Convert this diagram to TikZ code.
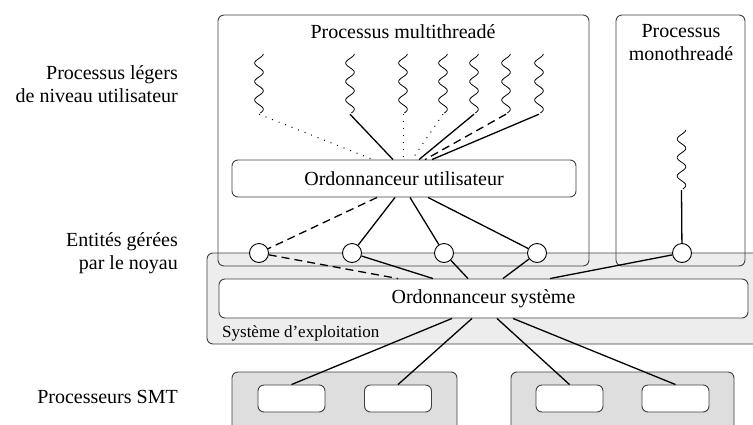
\documentclass[tikz,border=0pt]{standalone}
\usepackage{fontspec}
\setmainfont{Liberation Serif}

\begin{document}
\begin{tikzpicture}[x=1pt,y=-1pt,
  font=\fontsize{20}{23}\selectfont,
  cadre/.style={draw=black!75,line width=0.9pt,rounded corners=6pt,inner sep=0pt},
  entite/.style={circle,draw,fill=white,line width=0.9pt,minimum size=19pt,inner sep=0pt},
  lien/.style={line width=1.3pt},
  pointille/.style={line width=1pt,dash pattern=on 1pt off 6pt},
  tirets/.style={lien,dash pattern=on 8pt off 5pt},
  fil/.style={minimum width=12pt,minimum height=62pt,inner sep=0pt}]
  \useasboundingbox (0,0) rectangle (753,424);
  \clip (0,0) rectangle (753,424);

  % systeme d'exploitation (fond)
  \node[cadre,fill=black!7,minimum width=563pt,minimum height=91pt] (se) at (488.5,298.5) {};
  \node[anchor=base west,inner sep=0pt,font=\fontsize{17}{20}\selectfont] (nse) at (222,337) {Système d’exploitation};

  % processus
  \node[cadre,minimum width=371pt,minimum height=251pt] (pm) at (403.5,140.5) {};
  \node (npm) at (403,32) {Processus multithreadé};
  \node[cadre,minimum width=129pt,minimum height=251pt] (pu) at (680.5,140.5) {};
  \node[align=center] (npu) at (681,43) {Processus\\monothreadé};

  % ordonnanceurs
  \node[cadre,fill=white,minimum width=344pt,minimum height=37pt] (ou) at (404,178.5) {Ordonnanceur utilisateur};
  \node[cadre,fill=white,minimum width=529pt,minimum height=39pt] (os) at (483.5,298.5) {Ordonnanceur système};

  % processus legers
  \foreach \i/\x in {1/259,2/350,3/403,4/443,5/474,6/506,7/539} {
    \node[fil] (t\i) at (\x,83) {};
  }
  \node[fil] (t8) at (681.5,159) {};
  \foreach \i in {1,...,8} {
    \draw[line width=0.8pt,shift={(t\i.north)}]
      plot[domain=0:3.2,samples=90,smooth,variable=\t] ({4.3*cos(360*\t)},{2+18.5*\t});
  }

  % entites noyau
  \foreach \i/\x in {1/259,2/352,3/444,4/537,5/682} {
    \node[entite] (k\i) at (\x,253) {};
  }

  % processeurs SMT
  \node[cadre,fill=black!13,minimum width=225pt,minimum height=68pt] (p1) at (344.5,406) {};
  \node[cadre,fill=black!13,minimum width=223pt,minimum height=68pt] (p2) at (622.5,406) {};
  \foreach \i/\x in {1/291.5,2/398,3/569.5,4/675.5} {
    \node[cadre,fill=white,minimum width=67pt,minimum height=27pt] (c\i) at (\x,398.5) {};
  }

  % liens fils -> ordonnanceur utilisateur
  \draw[pointille] (t1.south) -- ([xshift=-31pt]ou.north);
  \draw[lien] (t2.south) -- ([xshift=-11pt]ou.north);
  \draw[pointille] (t3.south) -- ([xshift=-1pt]ou.north);
  \draw[pointille] (t4.south) -- ([xshift=8pt]ou.north);
  \draw[lien] (t5.south) -- ([xshift=15pt]ou.north);
  \draw[tirets] (t6.south) -- ([xshift=21pt]ou.north);
  \draw[lien] (t7.south) -- ([xshift=28pt]ou.north);
  \draw[lien] (t8.south) -- (k5);

  % ordonnanceur utilisateur -> entites
  \draw[tirets] ([xshift=-27pt]ou.south) -- (k1);
  \draw[lien] ([xshift=-9pt]ou.south) -- (k2);
  \draw[lien] ([xshift=6pt]ou.south) -- (k3);
  \draw[lien] ([xshift=24pt]ou.south) -- (k4);

  % entites -> ordonnanceur systeme
  \draw[tirets] (k1) -- ([xshift=-85.5pt]os.north);
  \draw[lien] (k2) -- ([xshift=-50.5pt]os.north);
  \draw[lien] (k3) -- ([xshift=-15.5pt]os.north);
  \draw[lien] (k4) -- ([xshift=19.5pt]os.north);
  \draw[lien] (k5) -- ([xshift=66.5pt]os.north);

  % ordonnanceur systeme -> processeurs
  \draw[lien] ([xshift=-31.5pt]os.south) -- (c1.north);
  \draw[lien] ([xshift=-11.5pt]os.south) -- (c2.north);
  \draw[lien] ([xshift=13.5pt]os.south) -- (c3.north);
  \draw[lien] ([xshift=29.5pt]os.south) -- (c4.north);

  % legendes
  \node[anchor=east,align=right,inner sep=0pt] (lpl) at (178,84) {Processus légers\\de niveau utilisateur};
  \node[anchor=east,align=right,inner sep=0pt] (len) at (178,253) {Entités gérées\\par le noyau};
  \node[anchor=east,inner sep=0pt] (lsmt) at (178,397) {Processeurs SMT};
\end{tikzpicture}
\end{document}
